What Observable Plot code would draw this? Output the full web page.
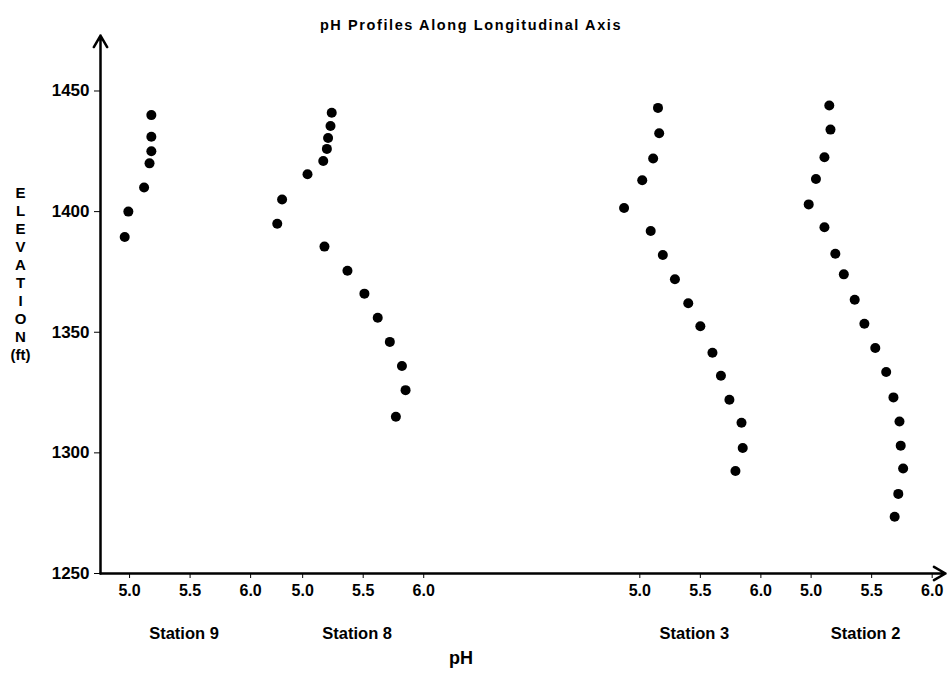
<!DOCTYPE html>
<html>
<head>
<meta charset="utf-8">
<script src="https://cdn.jsdelivr.net/npm/d3@7"></script>
<script src="https://cdn.jsdelivr.net/npm/@observablehq/plot@0.6"></script>
<style>
  html, body { margin: 0; padding: 0; background: #fff; }
  svg { display: block; }
</style>
</head>
<body>
<div id="chart"></div>
<script>
// ---- Data ----
const stations = ["Station 9", "Station 8", "Station 3", "Station 2"];
// horizontal offset (in pH units) of each station's pH scale along the shared axis
const stationOffsets = [0, 1.43, 4.215, 5.63];
const phTicks = [5.0, 5.5, 6.0];
const elevTicks = [1250, 1300, 1350, 1400, 1450];

const st9Elev = [1440, 1431, 1425, 1420, 1410, 1400, 1389.5];
const st9PH   = [5.18, 5.18, 5.18, 5.165, 5.12, 4.99, 4.96];

const st8Elev = [1441, 1435.5, 1430.5, 1426, 1421, 1415.5, 1405, 1395, 1385.5, 1375.5, 1366, 1356, 1346, 1336, 1326, 1315];
const st8PH   = [5.24, 5.23, 5.21, 5.20, 5.17, 5.04, 4.83, 4.79, 5.18, 5.37, 5.51, 5.62, 5.72, 5.82, 5.85, 5.77];

const st3Elev = [1443, 1432.5, 1422, 1413, 1401.5, 1392, 1382, 1372, 1362, 1352.5, 1341.5, 1332, 1322, 1312.5, 1302, 1292.5];
const st3PH   = [5.15, 5.16, 5.11, 5.02, 4.87, 5.09, 5.19, 5.29, 5.40, 5.50, 5.60, 5.67, 5.74, 5.84, 5.85, 5.79];

const st2Elev = [1444, 1434, 1422.5, 1413.5, 1403, 1393.5, 1382.5, 1374, 1363.5, 1353.5, 1343.5, 1333.5, 1323, 1313, 1303, 1293.5, 1283, 1273.5];
const st2PH   = [5.15, 5.16, 5.11, 5.04, 4.98, 5.11, 5.20, 5.27, 5.36, 5.44, 5.53, 5.62, 5.68, 5.73, 5.74, 5.76, 5.72, 5.69];

const titleText = "pH Profiles Along Longitudinal Axis";
const xLabel = "pH";
const yLabel = "ELEVATION";
const yUnit = "(ft)";

// ---- Build tables ----
const series = [
  {elev: st9Elev, ph: st9PH},
  {elev: st8Elev, ph: st8PH},
  {elev: st3Elev, ph: st3PH},
  {elev: st2Elev, ph: st2PH}
];
const points = series.flatMap((s, k) =>
  s.elev.map((e, i) => ({station: stations[k], x: stationOffsets[k] + s.ph[i], elev: e}))
);
const tickPos = [];
const tickLab = new Map();
stationOffsets.forEach(o => phTicks.forEach(p => {
  const v = +(o + p).toFixed(4);
  tickPos.push(v);
  tickLab.set(v, p.toFixed(1));
}));
const stationLabels = stations.map((s, k) => ({name: s, x: stationOffsets[k] + 5.45}));

const xDomain = [4.76, 11.74];
const yDomain = [1250, 1473];

const font = "'Liberation Sans', Arial, Helvetica, sans-serif";

const chart = Plot.plot({
  width: 948,
  height: 677,
  marginLeft: 100,
  marginRight: 3,
  marginTop: 35,
  marginBottom: 104,
  style: {fontFamily: font, background: "#fff", color: "#000", overflow: "visible"},
  x: {domain: xDomain},
  y: {domain: yDomain},
  marks: [
    // axes lines with arrowheads
    Plot.arrow([0], {x1: () => xDomain[0], y1: () => yDomain[0], x2: () => xDomain[1], y2: () => yDomain[0],
      stroke: "#000", strokeWidth: 2.5, headLength: 8, bend: false}),
    Plot.arrow([0], {x1: () => xDomain[0], y1: () => yDomain[0], x2: () => xDomain[0], y2: () => yDomain[1],
      stroke: "#000", strokeWidth: 2.5, headLength: 8, bend: false}),
    Plot.axisY({ticks: elevTicks, tickSize: 6, tickPadding: 5, fontSize: 17, fontWeight: "bold",
      label: null, tickFormat: d => String(d)}),
    Plot.axisX({ticks: tickPos, tickSize: 5, tickPadding: 6, fontSize: 16, fontWeight: "bold",
      label: null, tickFormat: d => tickLab.get(+d.toFixed(4))}),
    // data
    Plot.dot(points, {x: "x", y: "elev", r: 5, fill: "#000", stroke: "none"}),
    // station labels
    Plot.text(stationLabels, {x: "x", text: "name", frameAnchor: "bottom", dy: 65,
      fontSize: 16.5, fontWeight: "bold", fill: "#000"}),
    // axis label pH
    Plot.text([xLabel], {frameAnchor: "bottom", dx: -62, dy: 90, fontSize: 18, fontWeight: "bold", fill: "#000"}),
    // title
    Plot.text([titleText], {frameAnchor: "top", dx: -52, dy: -10, fontSize: 14.5, fontWeight: "bold",
      fill: "#000", lineAnchor: "middle"}),
    // vertical stacked ELEVATION + (ft)
    Plot.text([[...yLabel].join("\n") + "\n" + yUnit], {frameAnchor: "left", dx: -80, dy: -31,
      fontSize: 15, fontWeight: "bold", lineHeight: 1.2, fill: "#000", textAnchor: "middle", lineAnchor: "middle"})
  ]
});
// widen title letter spacing like the scanned original
d3.select(chart).selectAll("text").filter(function() { return this.textContent === titleText; })
  .attr("letter-spacing", "1.6px");
document.getElementById("chart").appendChild(chart);
</script>
</body>
</html>
